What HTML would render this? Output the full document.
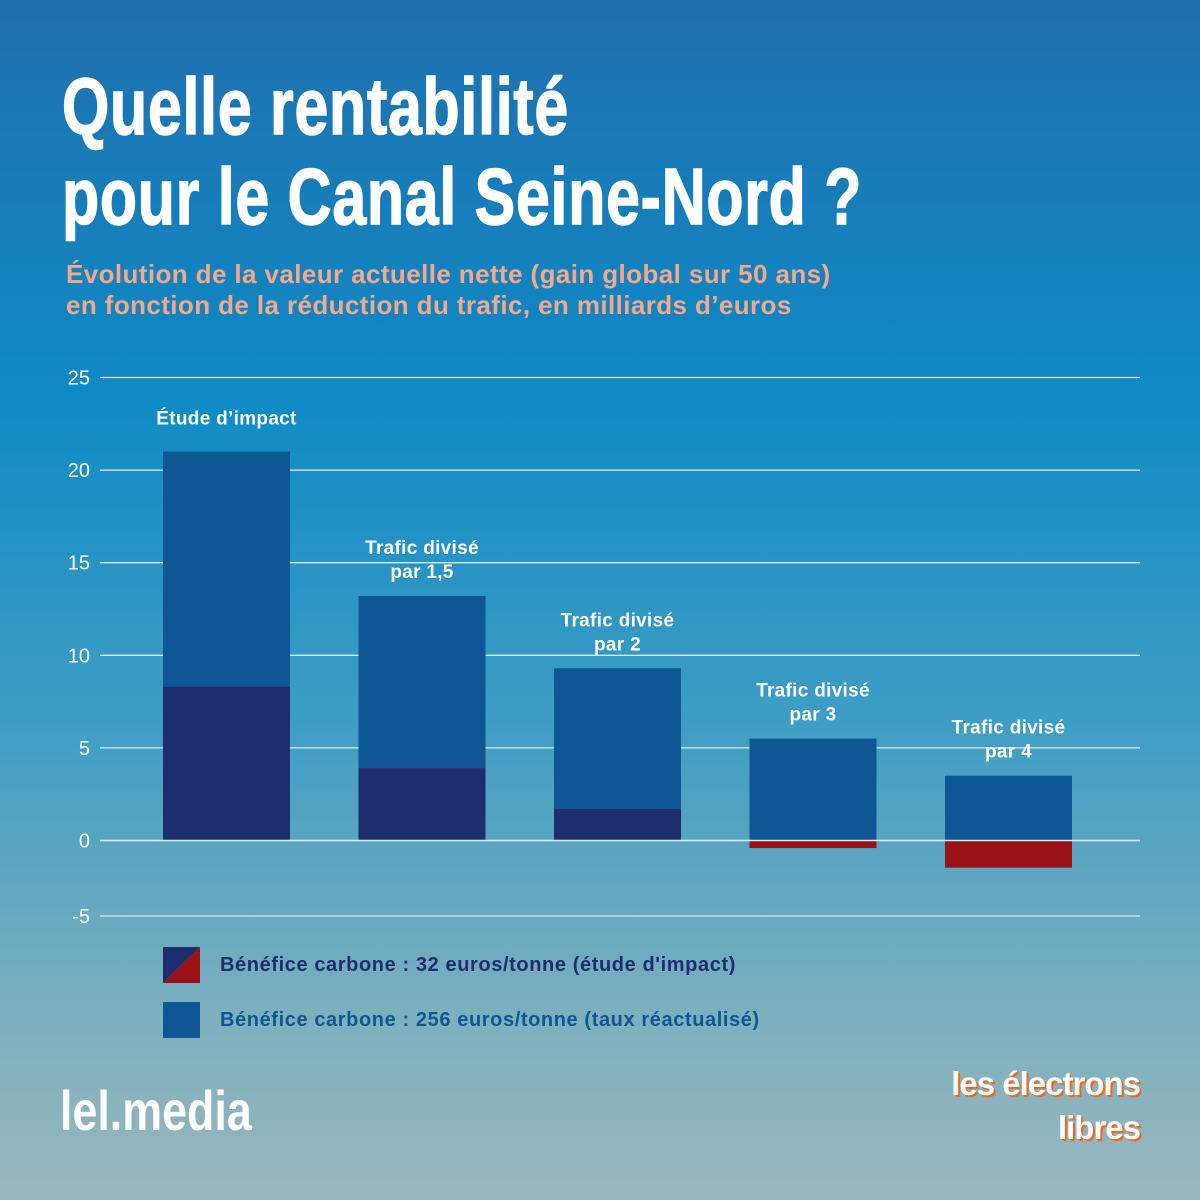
<!DOCTYPE html>
<html><head><meta charset="utf-8"><style>
body{margin:0;width:1200px;height:1200px;overflow:hidden;font-family:"Liberation Sans",sans-serif}
#bg{position:absolute;left:0;top:0;width:1200px;height:1200px;background:linear-gradient(180deg,#1f70ae 0%,#0f8ac5 33%,#3e9dc4 60%,#7db0bf 85%,#9ab7bd 100%)}
.t{position:absolute;color:#fff}
</style></head><body>
<div id="bg"></div>
<div class="t" style="left:62px;top:62px;font-size:80px;font-weight:bold;line-height:90px;transform:scaleX(0.76);transform-origin:left top;font-family:'Liberation Sans Narrow','Liberation Sans',sans-serif;letter-spacing:1px;-webkit-text-stroke:1.5px #fff">Quelle rentabilité<br>pour le Canal Seine-Nord ?</div>
<div class="t" style="left:66px;top:259px;font-size:26px;font-weight:bold;line-height:31px;color:#f3a98c;letter-spacing:0.4px;white-space:nowrap">Évolution de la valeur actuelle nette (gain global sur 50 ans)<br>en fonction de la réduction du trafic, en milliards d’euros</div>
<svg id="chart" width="1200" height="1200" style="position:absolute;left:0;top:0"></svg>
<div class="t" style="left:60px;top:1078px;font-size:56px;font-weight:bold;transform:scaleX(0.8);transform-origin:left top">lel.media</div>
<div class="t" style="left:840px;top:1062px;font-size:33px;font-weight:bold;line-height:44px;text-align:right;width:300px;white-space:nowrap;letter-spacing:-1px;text-shadow:2px 2px 0 #f06a1e">les électrons<br>libres</div>
<script>
const categories=["Étude d’impact","Trafic divisé|par 1,5","Trafic divisé|par 2","Trafic divisé|par 3","Trafic divisé|par 4"];
const carbon32=[8.3,3.9,1.7,-0.5,-1.8];
const carbon256=[21,13.2,9.3,5.5,3.5];
const ticks=[25,20,15,10,5,0,-5];
const svg=document.getElementById('chart');
const NS='http://www.w3.org/2000/svg';
function y(v){return v>=0?840.5-v*18.52:840.5-v*15.1;}
function x(i){return 163+i*195.5;}
const bw=127;
function mk(t,a){const e=document.createElementNS(NS,t);for(const k in a)e.setAttribute(k,a[k]);svg.appendChild(e);return e;}
ticks.forEach(t=>{
 const l=mk('line',{x1:100,x2:1140,y1:y(t),y2:y(t),stroke:'#dbe8f0','stroke-width':1.3});
 
 
 const tx=mk('text',{x:90,y:y(t)+7,'text-anchor':'end',fill:'#fff','font-size':20,'font-family':'Liberation Sans'});
 tx.textContent=t;
 
 
});
categories.forEach((c,i)=>{
 const top=y(carbon256[i]);
 const b=mk('rect',{x:x(i),y:top,width:bw,height:y(0)-top,fill:'#0e5694'});
 
 
 const v=carbon32[i];
 const y1=Math.min(y(v),y(0)),y2=Math.max(y(v),y(0));
 const d=mk('rect',{x:x(i),y:y1,width:bw,height:y2-y1,fill:v>=0?'#1e2d6d':'#9a1216'});
 
 
 c.split('|').forEach((ln,j,arr)=>{
  const t=mk('text',{x:x(i)+bw/2,y:top-(arr.length-j)*24+(arr.length==1?-3:6),'text-anchor':'middle',fill:'#fff','font-size':19,'font-weight':'bold','font-family':'Liberation Sans','letter-spacing':0.3});
  t.textContent=ln;
  
  
 });
});
const z=mk('line',{x1:100,x2:1140,y1:y(0),y2:y(0),stroke:'#dbe8f0','stroke-width':1.5});


const p=mk('polygon',{points:'163,947 200,947 163,983',fill:'#1e2d6d'});


const p2=mk('polygon',{points:'200,947 200,983 163,983',fill:'#9a1216'});


const r=mk('rect',{x:163,y:1002,width:37,height:36,fill:'#0e5694'});


const l1=mk('text',{x:220,y:971,fill:'#1e2d6d','font-size':20,'font-weight':'bold','font-family':'Liberation Sans','letter-spacing':0.6});
l1.textContent='Bénéfice carbone : 32 euros/tonne (étude d\'impact)';


const l2=mk('text',{x:220,y:1026,fill:'#0e5694','font-size':20,'font-weight':'bold','font-family':'Liberation Sans','letter-spacing':0.6});
l2.textContent='Bénéfice carbone : 256 euros/tonne (taux réactualisé)';


</script>
</body></html>
